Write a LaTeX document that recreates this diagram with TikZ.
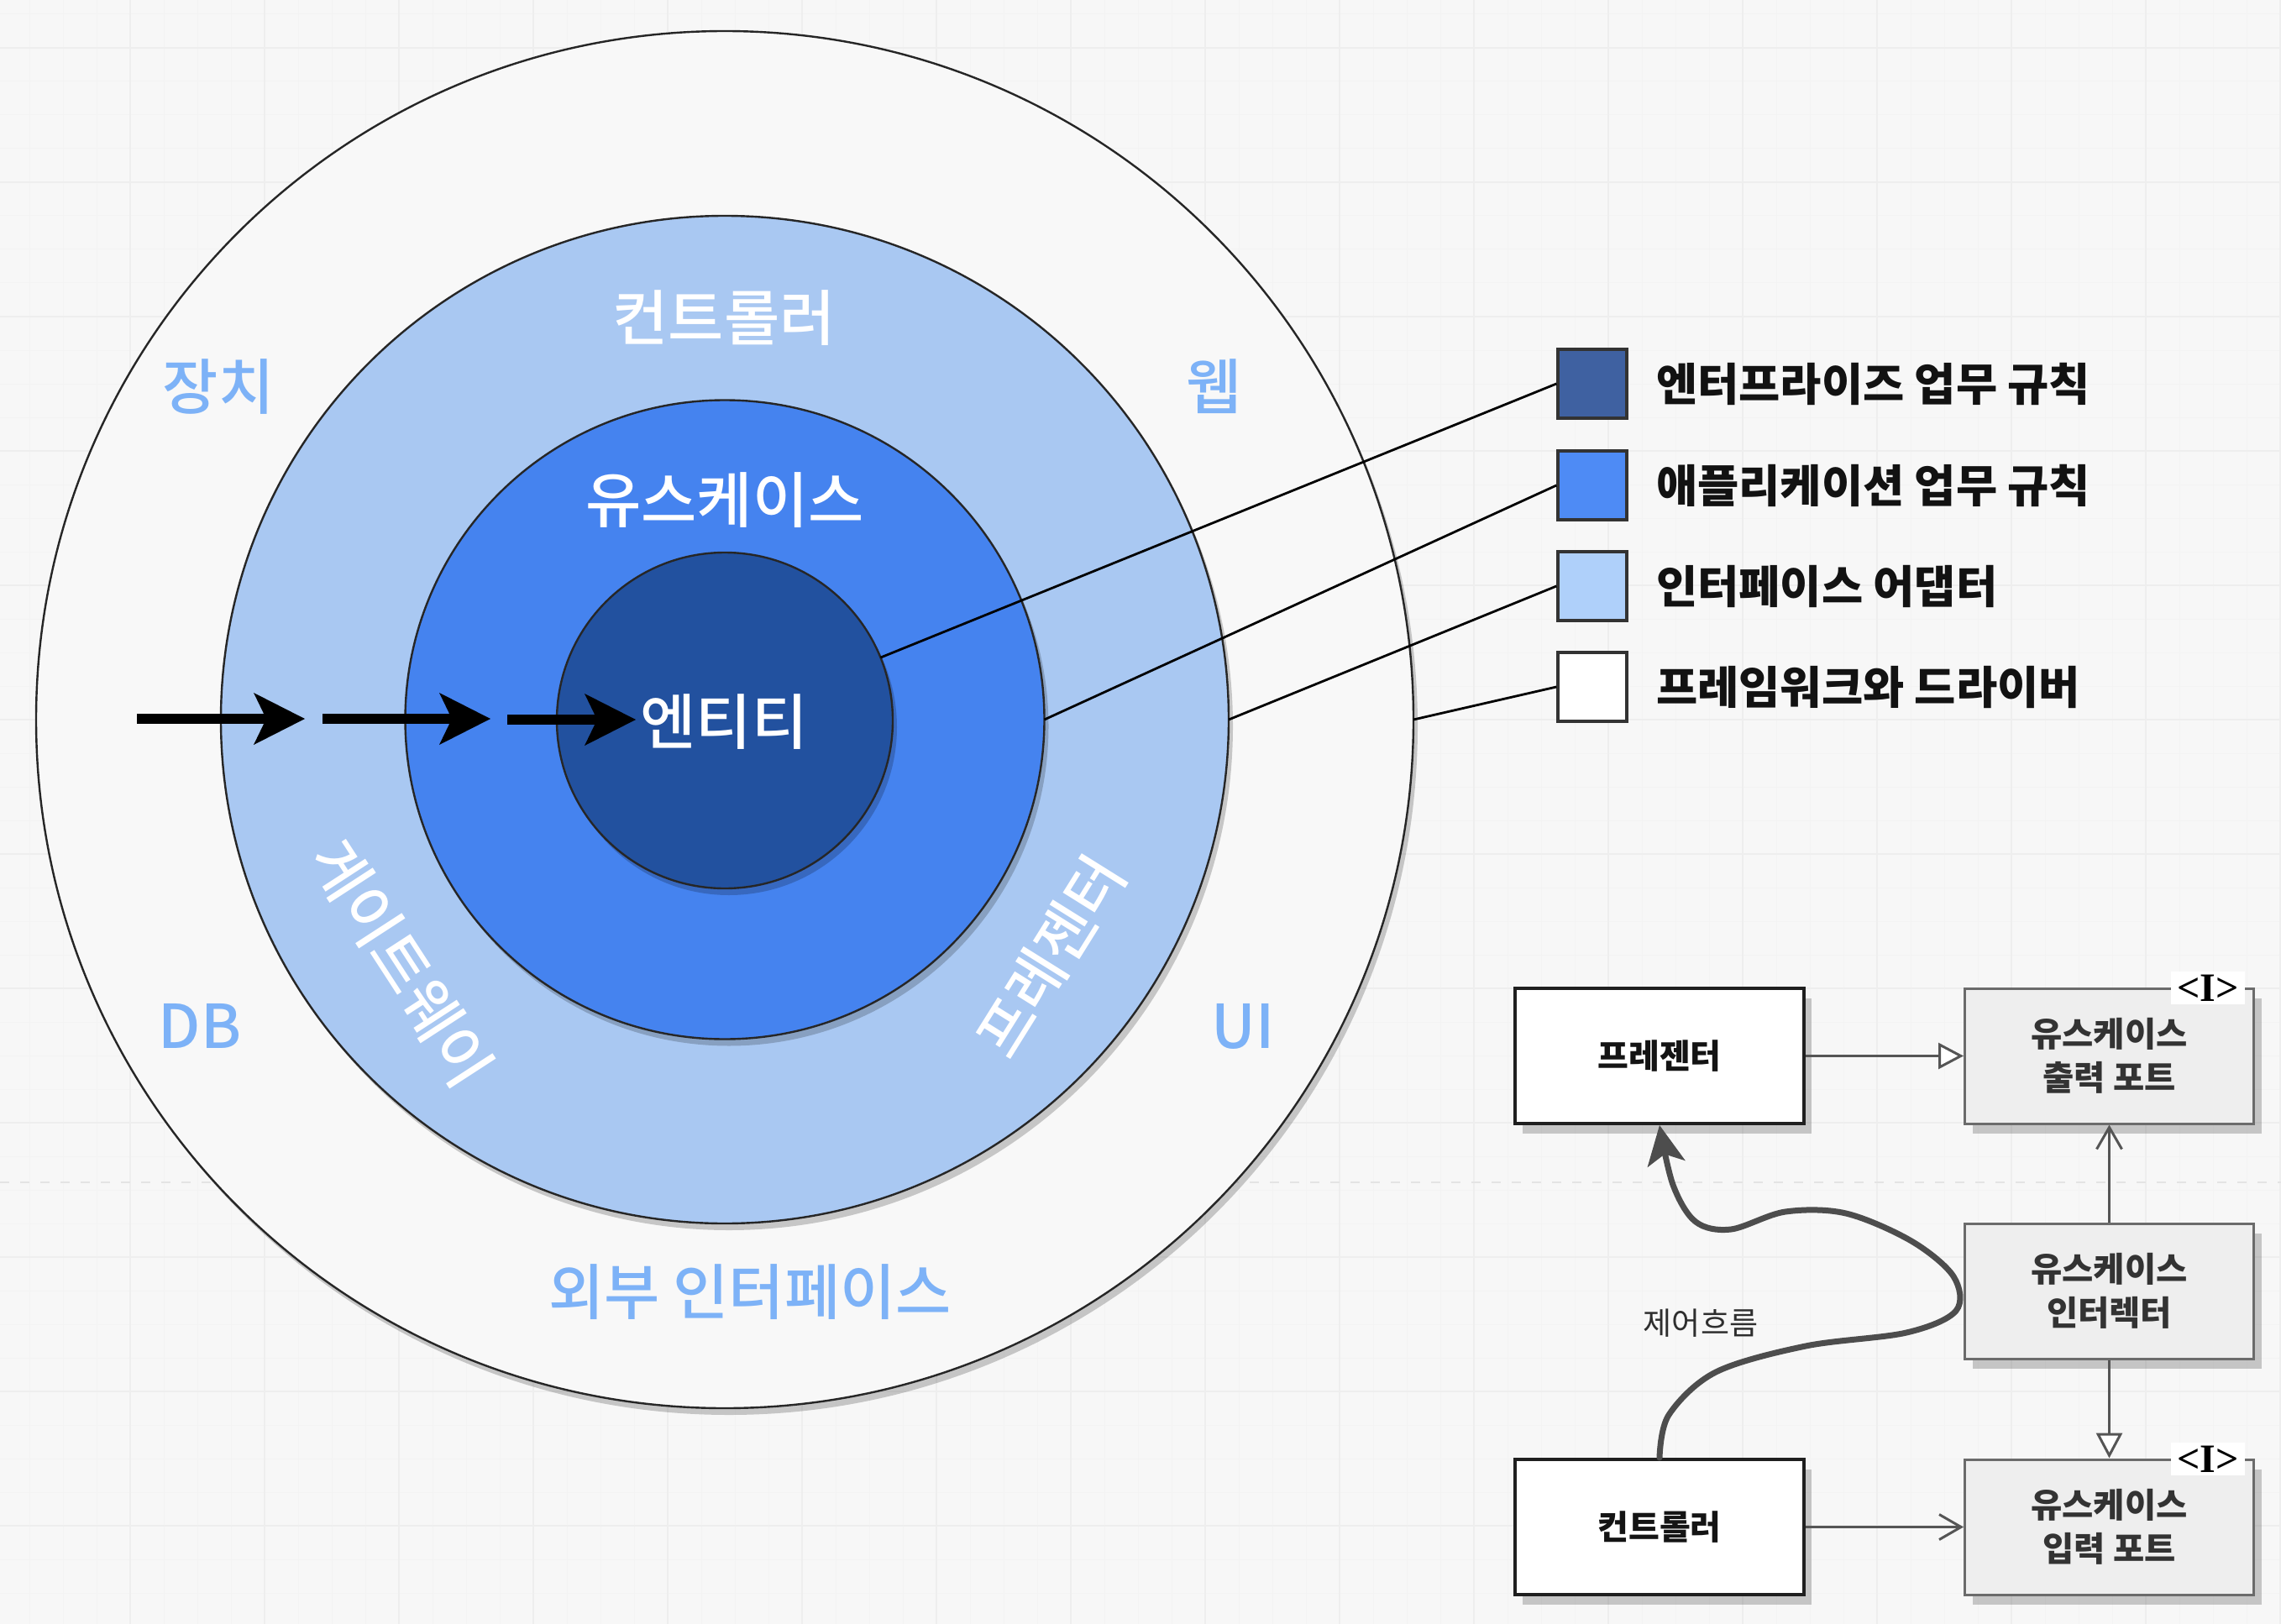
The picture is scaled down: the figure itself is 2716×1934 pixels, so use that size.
\documentclass[tikz,border=0pt]{standalone}
\usepackage{fontspec}
\newfontfamily\kr{Noto Sans CJK KR}
\newfontfamily\krm{Noto Sans CJK KR Medium}
\newfontfamily\tms{Liberation Serif}
\usetikzlibrary{arrows.meta,shadows,calc}
\definecolor{bg}{HTML}{F7F7F7}
\definecolor{gridmaj}{HTML}{EEEEEE}
\definecolor{gridmin}{HTML}{F3F3F3}
\definecolor{pagebreak}{HTML}{E4E4E4}
\definecolor{ringout}{HTML}{F8F8F8}
\definecolor{ringlb}{HTML}{A9C8F2}
\definecolor{ringb}{HTML}{4583EF}
\definecolor{ringd}{HTML}{22519F}
\definecolor{lbtext}{HTML}{7DB2F7}
\definecolor{legd}{HTML}{3F61A1}
\definecolor{legb}{HTML}{4E8BF5}
\definecolor{leglb}{HTML}{AFD0FA}
\definecolor{umlgray}{HTML}{EEEEEE}
\definecolor{umlline}{HTML}{555555}
\definecolor{flowc}{HTML}{4D4D4D}
\begin{document}
\begin{tikzpicture}[x=1pt,y=-1pt,
  ring/.style={circle, draw=black!85, line width=2.4pt, inner sep=0pt, outer sep=0pt,
     drop shadow={shadow xshift=5pt, shadow yshift=-8pt, opacity=0.2, fill=black}},
  ringlabel/.style={font={\krm\fontsize{72}{86}\selectfont}, inner sep=0pt},
  whitelabel/.style={ringlabel, text=white},
  bluelabel/.style={ringlabel, text=lbtext},
  conn/.style={draw=black, line width=2.8pt},
  legsq/.style={rectangle, draw=black!80, line width=3.5pt, minimum size=82pt, inner sep=0pt},
  legtext/.style={anchor=west, inner sep=0pt, text=black!93, font={\kr\bfseries\fontsize{53.5}{62}\selectfont}},
  thickarrow/.style={draw=black, line width=12.5pt, -{Stealth[length=61pt, width=62pt, inset=15pt, line width=0pt]}},
  umlbox/.style={rectangle, minimum width=344pt, minimum height=161pt, inner sep=0pt, align=center,
     drop shadow={shadow xshift=9pt, shadow yshift=-12pt, opacity=0.2, fill=black}},
  classbox/.style={umlbox, fill=white, draw=black!88, line width=4pt, text=black!92,
     font={\kr\bfseries\fontsize{40}{52}\selectfont}},
  portbox/.style={umlbox, fill=umlgray, draw=black!58, line width=3pt, text=black!80,
     font={\kr\bfseries\fontsize{40.5}{52}\selectfont}},
  ilabel/.style={fill=white, inner sep=0pt, minimum width=88pt, minimum height=39pt,
     font={\tms\bfseries\fontsize{48}{52}\selectfont}},
  umlarr/.style={draw=umlline, line width=3pt},
  hollowtri/.style={-{Triangle[length=30pt, width=31pt, fill=white]}},
  openv/.style={-{Straight Barb[length=26pt, width=30pt]}}
]
\useasboundingbox (0,0) rectangle (2716,1934);
\fill[bg] (0,0) rectangle (2716,1934);
% grid
\foreach \i in {0,...,67} \draw[gridmin, line width=1pt] ({35+40*\i},0) -- ({35+40*\i},1934);
\foreach \j in {0,...,48} \draw[gridmin, line width=1pt] (0,{17+40*\j}) -- (2716,{17+40*\j});
\foreach \i in {0,...,17} \draw[gridmaj, line width=1.5pt] ({-5+160*\i},0) -- ({-5+160*\i},1934);
\foreach \j in {0,...,11} \draw[gridmaj, line width=1.5pt] (0,{57+160*\j}) -- (2716,{57+160*\j});
\draw[pagebreak, line width=2pt, dash pattern=on 11pt off 13pt] (0,1408) -- (2716,1408);

% circles
\node[ring, fill=ringout, minimum size=1640pt] (outer) at (863,857) {};
\node[ring, fill=ringlb, minimum size=1200pt] (adapter) at (863,857) {};
\node[ring, fill=ringb, minimum size=761pt] (usecase) at (863,857) {};
\node[ring, fill=ringd, minimum size=400pt] (entity) at (863,858) {};

% circle labels
\node[whitelabel] (lctrl) at (862,379) {컨트롤러};
\node[whitelabel] (luse) at (863,596) {유스케이스};
\node[whitelabel] (lent) at (862,860) {엔티티};
\node[whitelabel, rotate=-57] (lgate) at (478,1147) {게이트웨이};
\node[whitelabel, rotate=58] (lpres) at (1251,1139) {프레젠터};
\node[bluelabel] (ldev) at (260,460) {장치};
\node[bluelabel] (lweb) at (1446,460) {웹};
\node[bluelabel] (ldb) at (238,1222) {DB};
\node[bluelabel] (lui) at (1480,1222) {UI};
\node[bluelabel] (lext) at (893,1539) {외부 인터페이스};

% thick arrows
\coordinate (a1s) at (163,856); \coordinate (a1e) at (363,856);
\coordinate (a2s) at (384,856); \coordinate (a2e) at (584,856);
\coordinate (a3s) at (604,857); \coordinate (a3e) at (757,857);
\draw[thickarrow] (a1s) -- (a1e);
\draw[thickarrow] (a2s) -- (a2e);
\draw[thickarrow] (a3s) -- (a3e);

% legend
\node[legsq, fill=legd] (leg1) at (1896,457) {};
\node[legsq, fill=legb] (leg2) at (1896,578) {};
\node[legsq, fill=leglb] (leg3) at (1896,698) {};
\node[legsq, fill=white] (leg4) at (1896,818) {};
\node[legtext] (leg1t) at (1972,457) {엔터프라이즈 업무 규칙};
\node[legtext] (leg2t) at (1972,578) {애플리케이션 업무 규칙};
\node[legtext] (leg3t) at (1972,698) {인터페이스 어댑터};
\node[legtext] (leg4t) at (1972,818) {프레임워크와 드라이버};
\draw[conn] (entity.22) -- (leg1.west);
\draw[conn] (usecase.east) -- (leg2.west);
\draw[conn] (adapter.east) -- (leg3.west);
\draw[conn] (outer.east) -- (leg4.west);

% UML part
\node[classbox] (pres) at (1976,1257.5) {프레젠터};
\node[portbox] (outport) at (2511.5,1257.5) {유스케이스\\출력 포트};
\node[portbox] (inter) at (2511.5,1537.5) {유스케이스\\인터렉터};
\node[classbox] (ctrl) at (1976,1818.5) {컨트롤러};
\node[portbox] (inport) at (2511.5,1818.5) {유스케이스\\입력 포트};
\node[ilabel] (iout) at ($(outport.north east)+(-56,1)$) {<I>};
\node[ilabel] (iin) at ($(inport.north east)+(-56,1)$) {<I>};

\draw[umlarr, hollowtri] (pres.east) -- (outport.west);
\draw[umlarr, openv] (inter.north) -- (outport.south);
\draw[umlarr, hollowtri] (inter.south) -- (inport.north);
\draw[umlarr, openv] (ctrl.east) -- (inport.west);

\draw[draw=flowc, line width=7pt, line cap=round,
      -{Stealth[length=47pt, width=46pt, inset=12pt, line width=0pt]}]
  plot[smooth, tension=0.55] coordinates {(ctrl.north) (1987,1685) (2043,1634) (2150,1603)
   (2270,1587) (2329,1561) (2326,1520) (2276,1478) (2198,1445) (2126,1443) (2061,1464)
   (2019,1455) (1992,1411) (pres.south)};
\node[inner sep=0pt, text=black!82, font={\kr\fontsize{37}{44}\selectfont}] (flowlbl) at (2025,1576) {제어흐름};
\end{tikzpicture}
\end{document}
